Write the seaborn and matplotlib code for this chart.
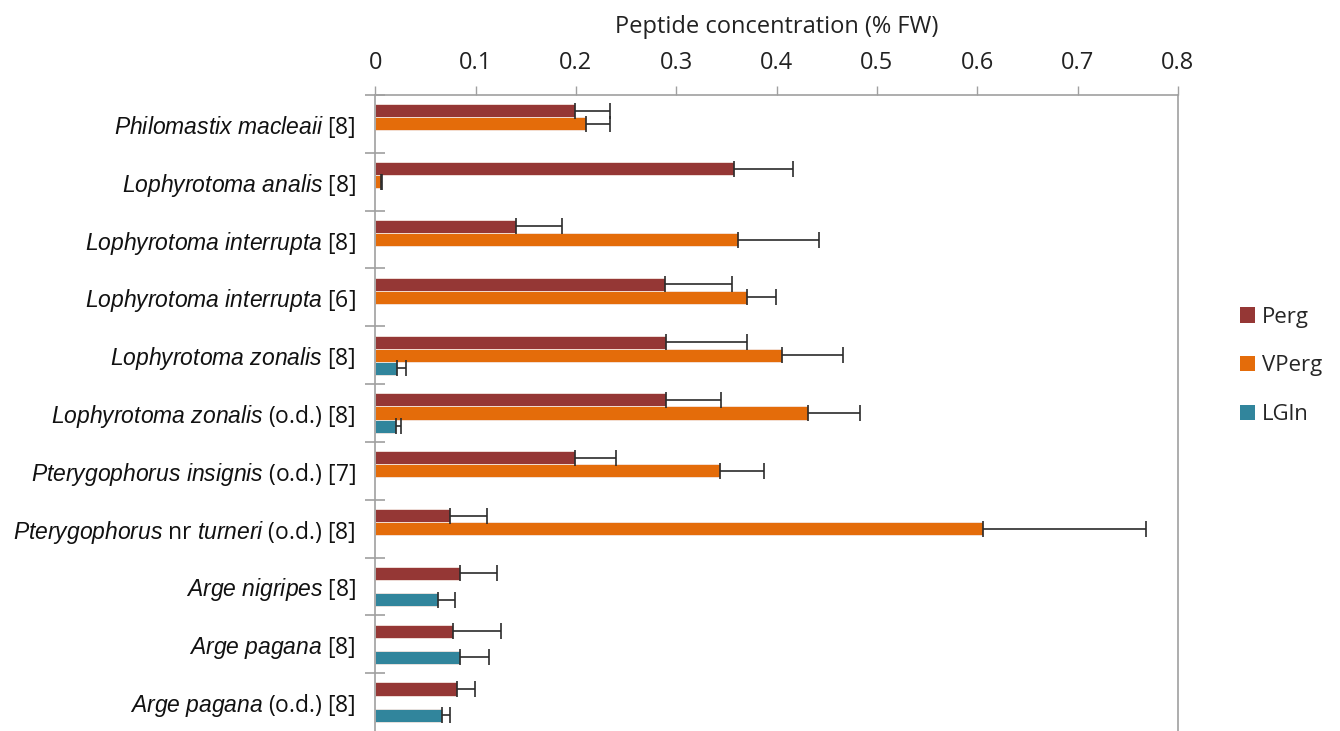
import matplotlib
matplotlib.use("Agg")
import matplotlib.pyplot as plt
import matplotlib.patches as mpatches
import numpy as np
import pandas as pd
import seaborn as sns

# Data
species = ["Philomastix macleaii [8]", "Lophyrotoma analis [8]",
           "Lophyrotoma interrupta [8]", "Lophyrotoma interrupta [6]",
           "Lophyrotoma zonalis [8]", "Lophyrotoma zonalis (o.d.) [8]",
           "Pterygophorus insignis (o.d.) [7]",
           "Pterygophorus nr turneri (o.d.) [8]",
           "Arge nigripes [8]", "Arge pagana [8]", "Arge pagana (o.d.) [8]"]
tick_labels = [r"$\mathit{Philomastix\ macleaii}$ [8]",
               r"$\mathit{Lophyrotoma\ analis}$ [8]",
               r"$\mathit{Lophyrotoma\ interrupta}$ [8]",
               r"$\mathit{Lophyrotoma\ interrupta}$ [6]",
               r"$\mathit{Lophyrotoma\ zonalis}$ [8]",
               r"$\mathit{Lophyrotoma\ zonalis}$ (o.d.) [8]",
               r"$\mathit{Pterygophorus\ insignis}$ (o.d.) [7]",
               r"$\mathit{Pterygophorus}$ nr $\mathit{turneri}$ (o.d.) [8]",
               r"$\mathit{Arge\ nigripes}$ [8]",
               r"$\mathit{Arge\ pagana}$ [8]",
               r"$\mathit{Arge\ pagana}$ (o.d.) [8]"]
peptides = ["Perg", "VPerg", "LGln"]

perg = [0.199, 0.358, 0.140, 0.289, 0.290, 0.290, 0.199, 0.075, 0.085, 0.078, 0.082]
perg_err = [0.035, 0.058, 0.046, 0.067, 0.081, 0.055, 0.041, 0.036, 0.036, 0.047, 0.017]
vperg = [0.210, 0.006, 0.362, 0.371, 0.405, 0.431, 0.344, 0.606, np.nan, np.nan, np.nan]
vperg_err = [0.024, 0.001, 0.080, 0.028, 0.061, 0.052, 0.044, 0.162, np.nan, np.nan, np.nan]
lgln = [np.nan, np.nan, np.nan, np.nan, 0.022, 0.021, np.nan, np.nan, 0.063, 0.085, 0.067]
lgln_err = [np.nan, np.nan, np.nan, np.nan, 0.009, 0.005, np.nan, np.nan, 0.017, 0.028, 0.008]

colors = ["#953735", "#E46C0A", "#31859C"]

df = pd.DataFrame({
    "species": species * 3,
    "peptide": ["Perg"] * 11 + ["VPerg"] * 11 + ["LGln"] * 11,
    "value": perg + vperg + lgln,
})

sns.set_style("white")
plt.rcParams["font.family"] = ["Open Sans", "DejaVu Sans"]
plt.rcParams["mathtext.fontset"] = "custom"
plt.rcParams["mathtext.it"] = "Liberation Sans:italic"
plt.rcParams["mathtext.rm"] = "Liberation Sans"

fig = plt.figure(figsize=(13.4, 7.31), dpi=100)
ax = fig.add_axes([0.28, 0.0, 0.599, 0.87])

group_w = 0.68
sns.barplot(data=df, y="species", x="value", hue="peptide",
            order=species, hue_order=peptides, palette=colors,
            orient="h", width=group_w, errorbar=None, saturation=1,
            edgecolor="#f4e6e0", linewidth=0.6, legend=False, ax=ax)

# one-sided error bars
step = group_w / 3
pos = np.arange(len(species))
for j, (vals, errs) in enumerate([(perg, perg_err), (vperg, vperg_err), (lgln, lgln_err)]):
    v = np.array(vals, dtype=float)
    e = np.array(errs, dtype=float)
    m = ~np.isnan(v)
    ax.errorbar(v[m], pos[m] + (j - 1) * step, xerr=[np.zeros(m.sum()), e[m]],
                fmt="none", ecolor="#2b2b2b", elinewidth=1.2, capsize=5.5,
                capthick=1.2)

ax.set_xlim(0, 0.8)
ax.set_ylim(len(species) - 0.5, -0.5)
ax.xaxis.tick_top()
ax.xaxis.set_label_position("top")
ax.set_xticks(np.arange(0, 0.81, 0.1))
ax.set_xticklabels(["0"] + [f"{t:.1f}" for t in np.arange(0.1, 0.81, 0.1)])
ax.tick_params(axis="x", top=True, direction="out", length=6.5, width=1,
               color="#a0a0a0", labelsize=17, pad=8, labelcolor="#222222")
ax.set_xlabel("Peptide concentration (% FW)", fontsize=17, labelpad=13,
              color="#222222")

ax.set_yticks(pos)
ax.set_yticklabels(tick_labels, fontsize=16.5, color="#111111")
ax.tick_params(axis="y", which="major", length=0, pad=14)
ax.set_yticks(np.arange(-0.5, len(species) - 1, 1.0), minor=True)
ax.tick_params(axis="y", which="minor", left=True, direction="inout",
               length=14, width=1.2, color="#a0a0a0")
ax.set_ylabel("")

for side in ["left", "right", "top"]:
    ax.spines[side].set_color("#a0a0a0")
    ax.spines[side].set_linewidth(1.2)
ax.spines["bottom"].set_visible(False)

handles = [mpatches.Patch(facecolor=c, edgecolor="none", label=p)
           for p, c in zip(peptides, colors)]
fig.legend(handles=handles, loc="center left",
           bbox_to_anchor=(1240 / 1340, 1 - 366 / 731), frameon=False,
           fontsize=16, handlelength=0.68, handleheight=0.68,
           handletextpad=0.3, labelspacing=1.25, borderaxespad=0,
           borderpad=0)

fig.savefig("out.png", dpi=100)
